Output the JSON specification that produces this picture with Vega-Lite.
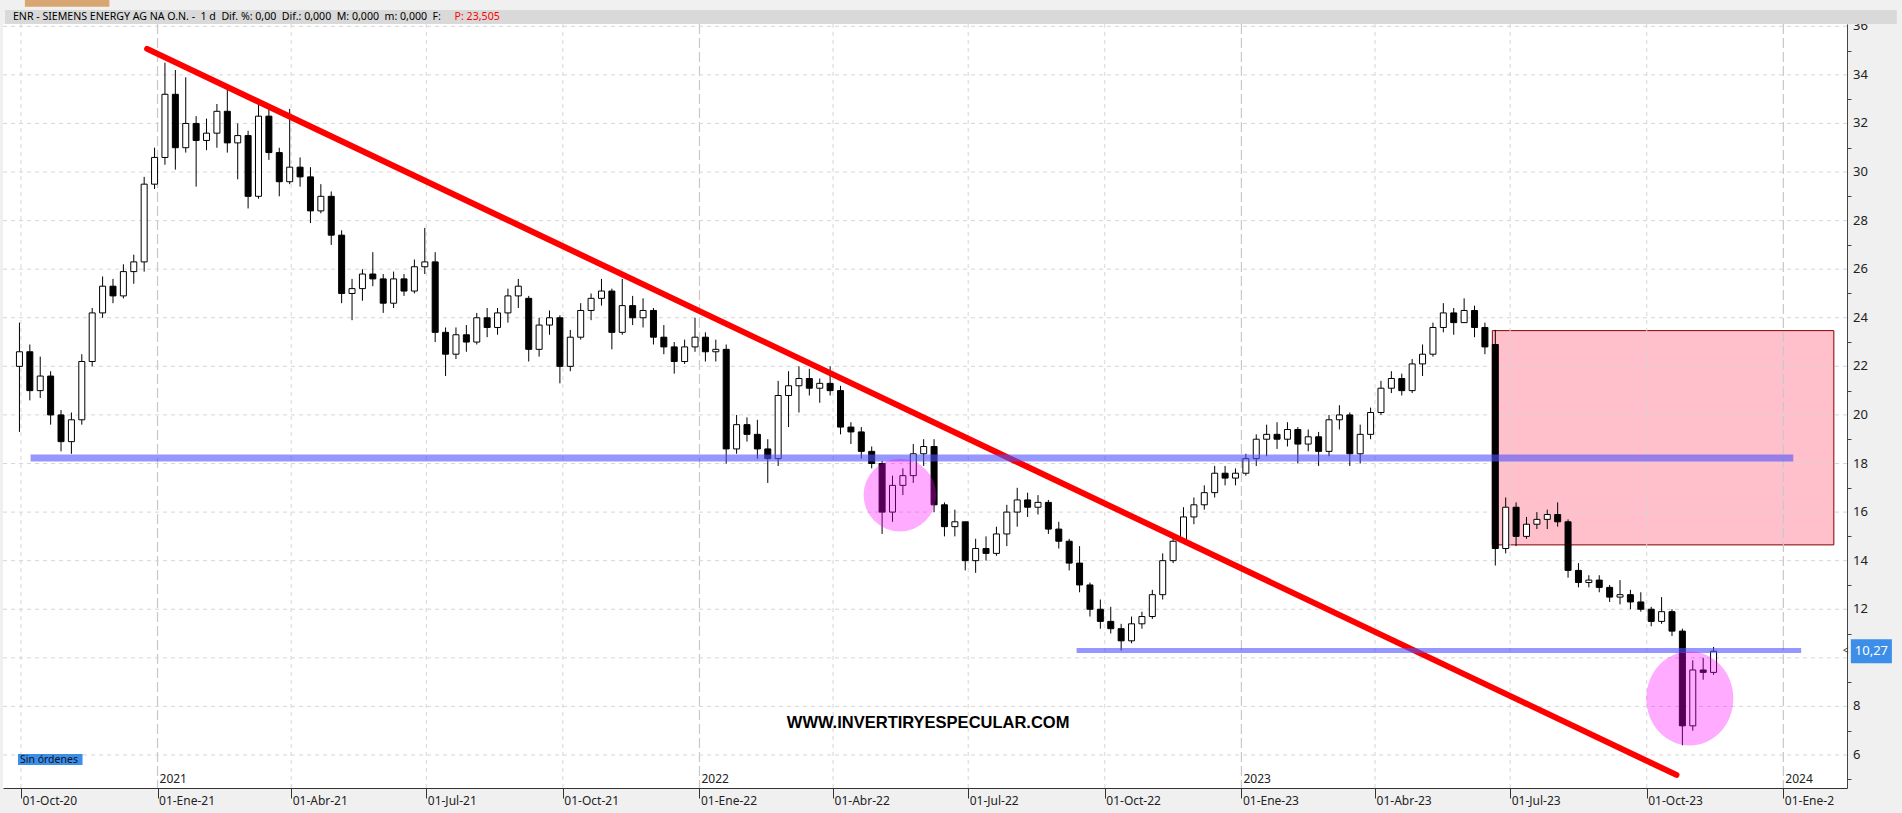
{
  "$schema": "https://vega.github.io/schema/vega-lite/v6.json",
  "width": 1844,
  "height": 764,
  "autosize": {"type": "none"},
  "padding": {"left": 3, "top": 24, "right": 55, "bottom": 25},
  "background": "#f0f0f0",
  "view": {"fill": "#ffffff", "stroke": null},
  "config": {"font": "Noto Sans"},
  "datasets": {
    "candles": [
      {"d":"2020-09-30","o":22.0,"h":23.8,"l":19.3,"c":22.6},
      {"d":"2020-10-07","o":22.6,"h":22.9,"l":20.6,"c":21.0},
      {"d":"2020-10-14","o":21.0,"h":22.4,"l":20.7,"c":21.6},
      {"d":"2020-10-21","o":21.6,"h":21.8,"l":19.6,"c":20.0},
      {"d":"2020-10-28","o":20.0,"h":20.2,"l":18.5,"c":18.9},
      {"d":"2020-11-04","o":18.9,"h":20.1,"l":18.4,"c":19.8},
      {"d":"2020-11-11","o":19.8,"h":22.5,"l":19.6,"c":22.2},
      {"d":"2020-11-18","o":22.2,"h":24.4,"l":22.0,"c":24.2},
      {"d":"2020-11-25","o":24.2,"h":25.7,"l":24.0,"c":25.3},
      {"d":"2020-12-02","o":25.3,"h":25.6,"l":24.6,"c":24.9},
      {"d":"2020-12-09","o":24.9,"h":26.2,"l":24.8,"c":25.9},
      {"d":"2020-12-16","o":25.9,"h":26.6,"l":25.4,"c":26.3},
      {"d":"2020-12-23","o":26.3,"h":29.8,"l":25.9,"c":29.5},
      {"d":"2020-12-30","o":29.5,"h":31.0,"l":29.3,"c":30.6},
      {"d":"2021-01-06","o":30.6,"h":34.5,"l":30.3,"c":33.2},
      {"d":"2021-01-13","o":33.2,"h":34.2,"l":30.1,"c":31.0},
      {"d":"2021-01-20","o":31.0,"h":33.9,"l":30.8,"c":32.0},
      {"d":"2021-01-27","o":32.0,"h":32.3,"l":29.4,"c":31.3},
      {"d":"2021-02-03","o":31.3,"h":32.2,"l":30.9,"c":31.6},
      {"d":"2021-02-10","o":31.6,"h":32.8,"l":31.0,"c":32.5},
      {"d":"2021-02-17","o":32.5,"h":33.6,"l":30.8,"c":31.2},
      {"d":"2021-02-24","o":31.2,"h":32.0,"l":29.7,"c":31.5},
      {"d":"2021-03-03","o":31.5,"h":31.7,"l":28.5,"c":29.0},
      {"d":"2021-03-10","o":29.0,"h":32.9,"l":28.9,"c":32.3},
      {"d":"2021-03-17","o":32.3,"h":32.7,"l":30.5,"c":30.8},
      {"d":"2021-03-24","o":30.8,"h":31.0,"l":29.0,"c":29.6},
      {"d":"2021-03-31","o":29.6,"h":32.6,"l":29.5,"c":30.2},
      {"d":"2021-04-07","o":30.2,"h":30.6,"l":29.4,"c":29.8},
      {"d":"2021-04-14","o":29.8,"h":30.2,"l":27.9,"c":28.4},
      {"d":"2021-04-21","o":28.4,"h":29.5,"l":28.3,"c":29.0},
      {"d":"2021-04-28","o":29.0,"h":29.2,"l":27.0,"c":27.4},
      {"d":"2021-05-05","o":27.4,"h":27.6,"l":24.6,"c":25.0},
      {"d":"2021-05-12","o":25.0,"h":25.6,"l":23.9,"c":25.2},
      {"d":"2021-05-19","o":25.2,"h":26.0,"l":24.7,"c":25.8},
      {"d":"2021-05-26","o":25.8,"h":26.7,"l":25.3,"c":25.6},
      {"d":"2021-06-02","o":25.6,"h":25.8,"l":24.2,"c":24.6},
      {"d":"2021-06-09","o":24.6,"h":25.9,"l":24.4,"c":25.6},
      {"d":"2021-06-16","o":25.6,"h":25.8,"l":24.9,"c":25.1},
      {"d":"2021-06-23","o":25.1,"h":26.4,"l":25.0,"c":26.1},
      {"d":"2021-06-30","o":26.1,"h":27.7,"l":25.8,"c":26.3},
      {"d":"2021-07-07","o":26.3,"h":26.7,"l":23.0,"c":23.4},
      {"d":"2021-07-14","o":23.4,"h":23.6,"l":21.6,"c":22.5},
      {"d":"2021-07-21","o":22.5,"h":23.6,"l":22.3,"c":23.3},
      {"d":"2021-07-28","o":23.3,"h":23.7,"l":22.6,"c":23.0},
      {"d":"2021-08-04","o":23.0,"h":24.2,"l":22.9,"c":24.0},
      {"d":"2021-08-11","o":24.0,"h":24.4,"l":23.2,"c":23.6},
      {"d":"2021-08-18","o":23.6,"h":24.4,"l":23.3,"c":24.2},
      {"d":"2021-08-25","o":24.2,"h":25.2,"l":23.8,"c":24.9},
      {"d":"2021-09-01","o":24.9,"h":25.6,"l":24.4,"c":25.3},
      {"d":"2021-09-08","o":24.8,"h":24.9,"l":22.2,"c":22.7},
      {"d":"2021-09-15","o":22.7,"h":24.0,"l":22.4,"c":23.7},
      {"d":"2021-09-22","o":23.7,"h":24.3,"l":23.3,"c":24.0},
      {"d":"2021-09-29","o":24.0,"h":24.1,"l":21.3,"c":22.0},
      {"d":"2021-10-06","o":22.0,"h":23.5,"l":21.8,"c":23.2},
      {"d":"2021-10-13","o":23.2,"h":24.6,"l":23.1,"c":24.3},
      {"d":"2021-10-20","o":24.3,"h":25.0,"l":23.9,"c":24.8},
      {"d":"2021-10-27","o":24.8,"h":25.6,"l":24.5,"c":25.1},
      {"d":"2021-11-03","o":25.1,"h":25.2,"l":22.7,"c":23.4},
      {"d":"2021-11-10","o":23.4,"h":25.6,"l":23.3,"c":24.5},
      {"d":"2021-11-17","o":24.5,"h":24.9,"l":23.7,"c":24.0},
      {"d":"2021-11-24","o":24.0,"h":24.8,"l":23.6,"c":24.3},
      {"d":"2021-12-01","o":24.3,"h":24.4,"l":22.9,"c":23.2},
      {"d":"2021-12-08","o":23.2,"h":23.7,"l":22.5,"c":22.8},
      {"d":"2021-12-15","o":22.8,"h":23.0,"l":21.7,"c":22.2},
      {"d":"2021-12-22","o":22.2,"h":23.1,"l":22.1,"c":22.8},
      {"d":"2021-12-29","o":22.8,"h":24.0,"l":22.6,"c":23.2},
      {"d":"2022-01-05","o":23.2,"h":23.4,"l":22.2,"c":22.6},
      {"d":"2022-01-12","o":22.6,"h":23.1,"l":22.2,"c":22.7},
      {"d":"2022-01-19","o":22.7,"h":22.9,"l":18.0,"c":18.6},
      {"d":"2022-01-26","o":18.6,"h":20.0,"l":18.4,"c":19.6},
      {"d":"2022-02-02","o":19.6,"h":19.9,"l":18.9,"c":19.2},
      {"d":"2022-02-09","o":19.2,"h":19.8,"l":18.2,"c":18.6},
      {"d":"2022-02-16","o":18.6,"h":19.0,"l":17.2,"c":18.2},
      {"d":"2022-02-23","o":18.2,"h":21.4,"l":17.9,"c":20.8},
      {"d":"2022-03-02","o":20.8,"h":21.8,"l":19.5,"c":21.2},
      {"d":"2022-03-09","o":21.2,"h":22.0,"l":20.1,"c":21.5},
      {"d":"2022-03-16","o":21.5,"h":21.9,"l":20.8,"c":21.1},
      {"d":"2022-03-23","o":21.1,"h":21.5,"l":20.5,"c":21.3},
      {"d":"2022-03-30","o":21.3,"h":22.0,"l":20.8,"c":21.0},
      {"d":"2022-04-06","o":21.0,"h":21.2,"l":19.2,"c":19.5},
      {"d":"2022-04-13","o":19.5,"h":19.7,"l":18.8,"c":19.3},
      {"d":"2022-04-20","o":19.3,"h":19.5,"l":18.2,"c":18.5},
      {"d":"2022-04-27","o":18.5,"h":18.7,"l":17.8,"c":18.0},
      {"d":"2022-05-04","o":18.0,"h":18.1,"l":15.1,"c":16.0},
      {"d":"2022-05-11","o":16.0,"h":17.5,"l":15.6,"c":17.1},
      {"d":"2022-05-18","o":17.1,"h":17.8,"l":16.7,"c":17.5},
      {"d":"2022-05-25","o":17.5,"h":18.8,"l":17.2,"c":18.4},
      {"d":"2022-06-01","o":18.4,"h":19.0,"l":17.9,"c":18.7},
      {"d":"2022-06-08","o":18.7,"h":19.0,"l":16.0,"c":16.3},
      {"d":"2022-06-15","o":16.3,"h":16.4,"l":15.0,"c":15.4},
      {"d":"2022-06-22","o":15.4,"h":16.1,"l":15.0,"c":15.6},
      {"d":"2022-06-29","o":15.6,"h":15.6,"l":13.6,"c":14.0},
      {"d":"2022-07-06","o":14.0,"h":14.9,"l":13.5,"c":14.5},
      {"d":"2022-07-13","o":14.5,"h":15.0,"l":14.0,"c":14.3},
      {"d":"2022-07-20","o":14.3,"h":15.4,"l":14.2,"c":15.1},
      {"d":"2022-07-27","o":15.1,"h":16.3,"l":14.6,"c":16.0},
      {"d":"2022-08-03","o":16.0,"h":17.0,"l":15.4,"c":16.5},
      {"d":"2022-08-10","o":16.5,"h":16.8,"l":15.8,"c":16.2},
      {"d":"2022-08-17","o":16.2,"h":16.7,"l":15.9,"c":16.4},
      {"d":"2022-08-24","o":16.4,"h":16.5,"l":15.1,"c":15.3},
      {"d":"2022-08-31","o":15.3,"h":15.6,"l":14.5,"c":14.8},
      {"d":"2022-09-07","o":14.8,"h":14.9,"l":13.6,"c":13.9},
      {"d":"2022-09-14","o":13.9,"h":14.6,"l":12.7,"c":13.0},
      {"d":"2022-09-21","o":13.0,"h":13.1,"l":11.7,"c":12.0},
      {"d":"2022-09-28","o":12.0,"h":12.4,"l":11.2,"c":11.5},
      {"d":"2022-10-05","o":11.5,"h":12.1,"l":11.0,"c":11.2},
      {"d":"2022-10-12","o":11.2,"h":11.4,"l":10.3,"c":10.7},
      {"d":"2022-10-19","o":10.7,"h":11.7,"l":10.6,"c":11.4},
      {"d":"2022-10-26","o":11.4,"h":11.9,"l":11.2,"c":11.7},
      {"d":"2022-11-02","o":11.7,"h":12.8,"l":11.6,"c":12.6},
      {"d":"2022-11-09","o":12.6,"h":14.3,"l":12.4,"c":14.0},
      {"d":"2022-11-16","o":14.0,"h":15.1,"l":13.9,"c":14.8},
      {"d":"2022-11-23","o":14.8,"h":16.2,"l":14.7,"c":15.8},
      {"d":"2022-11-30","o":15.8,"h":16.6,"l":15.5,"c":16.3},
      {"d":"2022-12-07","o":16.3,"h":17.1,"l":16.1,"c":16.8},
      {"d":"2022-12-14","o":16.8,"h":17.9,"l":16.6,"c":17.6},
      {"d":"2022-12-21","o":17.6,"h":17.9,"l":17.1,"c":17.4},
      {"d":"2022-12-28","o":17.4,"h":17.8,"l":17.1,"c":17.6},
      {"d":"2023-01-04","o":17.6,"h":18.4,"l":17.5,"c":18.2},
      {"d":"2023-01-11","o":18.2,"h":19.2,"l":17.9,"c":19.0},
      {"d":"2023-01-18","o":19.0,"h":19.6,"l":18.3,"c":19.2},
      {"d":"2023-01-25","o":19.2,"h":19.7,"l":18.6,"c":19.0},
      {"d":"2023-02-01","o":19.0,"h":19.7,"l":18.7,"c":19.4},
      {"d":"2023-02-08","o":19.4,"h":19.5,"l":18.0,"c":18.8},
      {"d":"2023-02-15","o":18.8,"h":19.4,"l":18.5,"c":19.1},
      {"d":"2023-02-22","o":19.1,"h":19.3,"l":17.9,"c":18.5},
      {"d":"2023-03-01","o":18.5,"h":20.0,"l":18.3,"c":19.8},
      {"d":"2023-03-08","o":19.8,"h":20.4,"l":19.4,"c":20.0},
      {"d":"2023-03-15","o":20.0,"h":20.1,"l":17.9,"c":18.4},
      {"d":"2023-03-22","o":18.4,"h":19.6,"l":18.0,"c":19.2},
      {"d":"2023-03-29","o":19.2,"h":20.3,"l":19.0,"c":20.1},
      {"d":"2023-04-05","o":20.1,"h":21.4,"l":20.0,"c":21.1},
      {"d":"2023-04-12","o":21.1,"h":21.8,"l":20.9,"c":21.5},
      {"d":"2023-04-19","o":21.5,"h":21.7,"l":20.8,"c":21.0},
      {"d":"2023-04-26","o":21.0,"h":22.3,"l":20.9,"c":22.1},
      {"d":"2023-05-03","o":22.1,"h":22.9,"l":21.6,"c":22.5},
      {"d":"2023-05-10","o":22.5,"h":23.8,"l":22.4,"c":23.6},
      {"d":"2023-05-17","o":23.6,"h":24.6,"l":23.4,"c":24.2},
      {"d":"2023-05-24","o":24.2,"h":24.4,"l":23.3,"c":23.8},
      {"d":"2023-05-31","o":23.8,"h":24.8,"l":23.8,"c":24.3},
      {"d":"2023-06-07","o":24.3,"h":24.5,"l":23.2,"c":23.6},
      {"d":"2023-06-14","o":23.6,"h":23.8,"l":22.5,"c":22.8},
      {"d":"2023-06-21","o":22.9,"h":23.5,"l":13.8,"c":14.5},
      {"d":"2023-06-28","o":14.5,"h":16.6,"l":14.3,"c":16.2},
      {"d":"2023-07-05","o":16.2,"h":16.4,"l":14.6,"c":15.0},
      {"d":"2023-07-12","o":15.0,"h":15.8,"l":14.9,"c":15.5},
      {"d":"2023-07-19","o":15.5,"h":16.0,"l":15.3,"c":15.7},
      {"d":"2023-07-26","o":15.7,"h":16.1,"l":15.3,"c":15.9},
      {"d":"2023-08-02","o":15.9,"h":16.4,"l":15.4,"c":15.6},
      {"d":"2023-08-09","o":15.6,"h":15.7,"l":13.3,"c":13.6},
      {"d":"2023-08-16","o":13.6,"h":13.9,"l":12.9,"c":13.1},
      {"d":"2023-08-23","o":13.1,"h":13.4,"l":12.9,"c":13.2},
      {"d":"2023-08-30","o":13.2,"h":13.4,"l":12.7,"c":12.9},
      {"d":"2023-09-06","o":12.9,"h":13.0,"l":12.3,"c":12.5},
      {"d":"2023-09-13","o":12.5,"h":13.2,"l":12.2,"c":12.6},
      {"d":"2023-09-20","o":12.6,"h":12.8,"l":12.0,"c":12.3},
      {"d":"2023-09-27","o":12.3,"h":12.7,"l":11.9,"c":12.0},
      {"d":"2023-10-04","o":12.0,"h":12.1,"l":11.3,"c":11.5},
      {"d":"2023-10-11","o":11.5,"h":12.5,"l":11.4,"c":11.9},
      {"d":"2023-10-18","o":11.9,"h":12.0,"l":10.9,"c":11.1},
      {"d":"2023-10-25","o":11.1,"h":11.2,"l":6.4,"c":7.2},
      {"d":"2023-11-01","o":7.2,"h":9.9,"l":7.0,"c":9.5},
      {"d":"2023-11-08","o":9.5,"h":10.0,"l":9.1,"c":9.4},
      {"d":"2023-11-15","o":9.4,"h":10.45,"l":9.3,"c":10.27}
    ],
    "hgrid": [{"p":6},{"p":8},{"p":10},{"p":12},{"p":14},{"p":16},{"p":18},{"p":20},{"p":22},{"p":24},{"p":26},{"p":28},{"p":30},{"p":32},{"p":34},{"p":36}],
    "qgrid": [{"d":"2020-10-01"},{"d":"2021-04-01"},{"d":"2021-07-01"},{"d":"2021-10-01"},{"d":"2022-04-01"},{"d":"2022-07-01"},{"d":"2022-10-01"},{"d":"2023-04-01"},{"d":"2023-07-01"},{"d":"2023-10-01"}],
    "ygrid": [{"d":"2021-01-01","t":"2021"},{"d":"2022-01-01","t":"2022"},{"d":"2023-01-01","t":"2023"},{"d":"2024-01-01","t":"2024"}]
  },
  "layer": [
    {
      "data": {"name": "candles"},
      "mark": {"type": "rule", "color": "#000000", "strokeWidth": 1, "opacity": 0},
      "encoding": {
        "x": {"field": "d", "type": "temporal", "scale": {"type": "utc", "domain": [1600758000000, 1707480000000]},
          "axis": {"values": [1601510400000, 1609459200000, 1617235200000, 1625097600000, 1633046400000, 1640995200000, 1648771200000, 1656633600000, 1664582400000, 1672531200000, 1680307200000, 1688169600000, 1696118400000, 1704067200000],
            "labelExpr": "'01-' + ['Ene','Feb','Mar','Abr','May','Jun','Jul','Ago','Sep','Oct','Nov','Dic'][utcmonth(datum.value)] + '-' + (utcyear(datum.value) == 2024 ? '2' : utcFormat(datum.value, '%y'))",
            "labelAlign": "left", "labelBaseline": "top", "labelFlush": false, "labelOverlap": false,
            "labelPadding": -3, "labelOffset": 1, "labelFontSize": 12, "labelColor": "#222222",
            "tickSize": 10, "tickColor": "#333333", "domainColor": "#333333", "grid": false, "title": null}},
        "y": {"field": "l", "type": "quantitative", "scale": {"domain": [4.641, 36.094], "zero": false, "nice": false},
          "axis": {"orient": "right",
            "values": [5,5.5,6,6.5,7,7.5,8,8.5,9,9.5,10,10.5,11,11.5,12,12.5,13,13.5,14,14.5,15,15.5,16,16.5,17,17.5,18,18.5,19,19.5,20,20.5,21,21.5,22,22.5,23,23.5,24,24.5,25,25.5,26,26.5,27,27.5,28,28.5,29,29.5,30,30.5,31,31.5,32,32.5,33,33.5,34,34.5,35,35.5,36],
            "labels": false,
            "tickSize": 4, "tickColor": "#444444", "domainColor": "#444444", "grid": false, "title": null}},
        "y2": {"field": "h"}
      }
    },
    {
      "data": {"name": "hgrid"},
      "transform": [{"filter": "datum.p != 10"}],
      "mark": {"type": "text", "align": "left", "baseline": "middle", "clip": false, "fontSize": 13, "color": "#222222"},
      "encoding": {
        "x": {"datum": {"year": 2024, "month": 2, "date": 16, "hours": 22, "utc": true}, "type": "temporal"},
        "y": {"field": "p", "type": "quantitative"},
        "text": {"field": "p", "type": "quantitative", "format": "d"}
      }
    },
    {
      "data": {"values": [{"d1":"2020-09-20T06:45:00Z","d2":"2024-03-17T10:00:00Z","p1":36.094,"p2":36.67}]},
      "mark": {"type": "rect", "fill": "#d9d9d9", "clip": false},
      "encoding": {
        "x": {"field": "d1", "type": "temporal"},
        "x2": {"field": "d2"},
        "y": {"field": "p1", "type": "quantitative"},
        "y2": {"field": "p2"}
      }
    },
    {
      "data": {"values": [{"d1":"2020-10-03T16:00:00Z","d2":"2020-11-29T14:00:00Z","p1":36.8,"p2":37.1}]},
      "mark": {"type": "rect", "fill": "#d8a672", "clip": false},
      "encoding": {
        "x": {"field": "d1", "type": "temporal"},
        "x2": {"field": "d2"},
        "y": {"field": "p1", "type": "quantitative"},
        "y2": {"field": "p2"}
      }
    },
    {
      "data": {"values": [{"d1":"2023-06-19","d2":"2024-02-04","p1":23.47,"p2":14.65}]},
      "mark": {"type": "rect", "fill": "#ffc0cb", "stroke": "#800000", "strokeWidth": 1},
      "encoding": {
        "x": {"field": "d1", "type": "temporal"},
        "x2": {"field": "d2"},
        "y": {"field": "p1", "type": "quantitative"},
        "y2": {"field": "p2"}
      }
    },
    {
      "data": {"name": "qgrid"},
      "mark": {"type": "rule", "color": "#d6d6d6", "strokeWidth": 1, "strokeDash": [4, 4]},
      "encoding": {"x": {"field": "d", "type": "temporal"}}
    },
    {
      "data": {"name": "ygrid"},
      "mark": {"type": "rule", "color": "#c8c8c8", "strokeWidth": 1.2, "strokeDash": [10, 4]},
      "encoding": {"x": {"field": "d", "type": "temporal"}}
    },
    {
      "data": {"name": "hgrid"},
      "mark": {"type": "rule", "color": "#d6d6d6", "strokeWidth": 1, "strokeDash": [4, 4]},
      "encoding": {"y": {"field": "p", "type": "quantitative"}}
    },
    {
      "data": {"name": "candles"},
      "mark": {"type": "rule", "color": "#000000", "strokeWidth": 1},
      "encoding": {
        "x": {"field": "d", "type": "temporal"},
        "y": {"field": "l", "type": "quantitative"},
        "y2": {"field": "h"}
      }
    },
    {
      "data": {"name": "candles"},
      "mark": {"type": "bar", "width": 6, "stroke": "#000000", "strokeWidth": 1},
      "encoding": {
        "x": {"field": "d", "type": "temporal"},
        "y": {"field": "o", "type": "quantitative"},
        "y2": {"field": "c"},
        "fill": {"condition": {"test": "datum.c >= datum.o", "value": "#ffffff"}, "value": "#000000"}
      }
    },
    {
      "data": {"values": [{"d1":"2020-12-25","d2":"2023-10-21","p1":35.07,"p2":5.18}]},
      "mark": {"type": "rule", "color": "#ff0000", "strokeWidth": 6, "strokeCap": "round"},
      "encoding": {
        "x": {"field": "d1", "type": "temporal"},
        "x2": {"field": "d2"},
        "y": {"field": "p1", "type": "quantitative"},
        "y2": {"field": "p2"}
      }
    },
    {
      "data": {"values": [{"d1":"2020-10-07T12:00:00Z","d2":"2024-01-07T16:00:00Z","p":18.23}]},
      "mark": {"type": "rule", "color": "#5050ff", "opacity": 0.6, "strokeWidth": 7},
      "encoding": {
        "x": {"field": "d1", "type": "temporal"},
        "x2": {"field": "d2"},
        "y": {"field": "p", "type": "quantitative"}
      }
    },
    {
      "data": {"values": [{"d1":"2022-09-12","d2":"2024-01-13","p":10.3}]},
      "mark": {"type": "rule", "color": "#5050ff", "opacity": 0.6, "strokeWidth": 5},
      "encoding": {
        "x": {"field": "d1", "type": "temporal"},
        "x2": {"field": "d2"},
        "y": {"field": "p", "type": "quantitative"}
      }
    },
    {
      "data": {"values": [{"d":"2022-05-16","p":16.7}]},
      "mark": {"type": "point", "shape": "circle", "size": 5281, "filled": true, "fill": "#ff00ff", "fillOpacity": 0.33, "strokeWidth": 0},
      "encoding": {
        "x": {"field": "d", "type": "temporal"},
        "y": {"field": "p", "type": "quantitative"}
      }
    },
    {
      "data": {"values": [{"d":"2023-10-30","p":8.33}]},
      "mark": {"type": "point", "shape": "M -0.926 0 A 0.926 1 0 1 0 0.926 0 A 0.926 1 0 1 0 -0.926 0 Z", "size": 8836, "filled": true, "fill": "#ff00ff", "fillOpacity": 0.33, "strokeWidth": 0},
      "encoding": {
        "x": {"field": "d", "type": "temporal"},
        "y": {"field": "p", "type": "quantitative"}
      }
    },
    {
      "data": {"values": [{"d":"2022-06-04","p":7.33,"t":"WWW.INVERTIRYESPECULAR.COM"}]},
      "mark": {"type": "text", "font": "Liberation Sans", "fontWeight": "bold", "fontSize": 16.5, "color": "#000000", "align": "center", "baseline": "middle"},
      "encoding": {
        "x": {"field": "d", "type": "temporal"},
        "y": {"field": "p", "type": "quantitative"},
        "text": {"field": "t"}
      }
    },
    {
      "data": {"name": "ygrid"},
      "mark": {"type": "text", "fontSize": 12, "color": "#222222", "align": "left", "baseline": "middle", "dx": 2},
      "encoding": {
        "x": {"field": "d", "type": "temporal"},
        "y": {"datum": 5.0, "type": "quantitative"},
        "text": {"field": "t"}
      }
    },
    {
      "data": {"values": [{"d1":"2020-09-29","d2":"2020-11-11T12:00:00Z","p1":6.04,"p2":5.59}]},
      "mark": {"type": "rect", "fill": "#3b8eea"},
      "encoding": {
        "x": {"field": "d1", "type": "temporal"},
        "x2": {"field": "d2"},
        "y": {"field": "p1", "type": "quantitative"},
        "y2": {"field": "p2"}
      }
    },
    {
      "data": {"values": [{"d":"2020-09-30T08:00:00Z","p":5.81,"t":"Sin órdenes"}]},
      "mark": {"type": "text", "fontSize": 10.5, "color": "#111111", "align": "left", "baseline": "middle"},
      "encoding": {
        "x": {"field": "d", "type": "temporal"},
        "y": {"field": "p", "type": "quantitative"},
        "text": {"field": "t"}
      }
    },
    {
      "data": {"values": [{"d":"2024-02-29T07:00:00Z","p":10.27}]},
      "mark": {"type": "point", "shape": "M -1 -0.585 L 1 -0.585 L 1 0.585 L -1 0.585 Z", "size": 1681, "filled": true, "fill": "#3d8ee8", "opacity": 1, "strokeWidth": 0, "clip": false},
      "encoding": {
        "x": {"field": "d", "type": "temporal"},
        "y": {"field": "p", "type": "quantitative"}
      }
    },
    {
      "data": {"values": [{"d":"2024-02-29T07:00:00Z","p":10.27,"t":"10,27"}]},
      "mark": {"type": "text", "align": "center", "baseline": "middle", "clip": false, "fontSize": 13, "color": "#ffffff"},
      "encoding": {
        "x": {"field": "d", "type": "temporal"},
        "y": {"field": "p", "type": "quantitative"},
        "text": {"field": "t"}
      }
    },
    {
      "data": {"values": [{"d":"2024-02-11T22:00:00Z","p":10.27,"t":"<"}]},
      "mark": {"type": "text", "align": "center", "baseline": "middle", "clip": false, "fontSize": 10, "color": "#333333"},
      "encoding": {
        "x": {"field": "d", "type": "temporal"},
        "y": {"field": "p", "type": "quantitative"},
        "text": {"field": "t"}
      }
    },
    {
      "data": {"values": [{"d":"2020-09-25T15:00:00Z","p":36.38,"t":"ENR - SIEMENS ENERGY AG NA O.N. -\u00a0\u00a01 d\u00a0\u00a0Dif. %: 0,00\u00a0\u00a0Dif.: 0,000\u00a0\u00a0M: 0,000\u00a0\u00a0m: 0,000\u00a0\u00a0F:"}]},
      "mark": {"type": "text", "align": "left", "baseline": "middle", "clip": false, "fontSize": 10.6, "color": "#000000"},
      "encoding": {
        "x": {"field": "d", "type": "temporal"},
        "y": {"field": "p", "type": "quantitative"},
        "text": {"field": "t"}
      }
    },
    {
      "data": {"values": [{"d":"2021-07-20T02:00:00Z","p":36.38,"t":"P: 23,505"}]},
      "mark": {"type": "text", "align": "left", "baseline": "middle", "clip": false, "fontSize": 10.6, "color": "#ff0000"},
      "encoding": {
        "x": {"field": "d", "type": "temporal"},
        "y": {"field": "p", "type": "quantitative"},
        "text": {"field": "t"}
      }
    }
  ]
}
